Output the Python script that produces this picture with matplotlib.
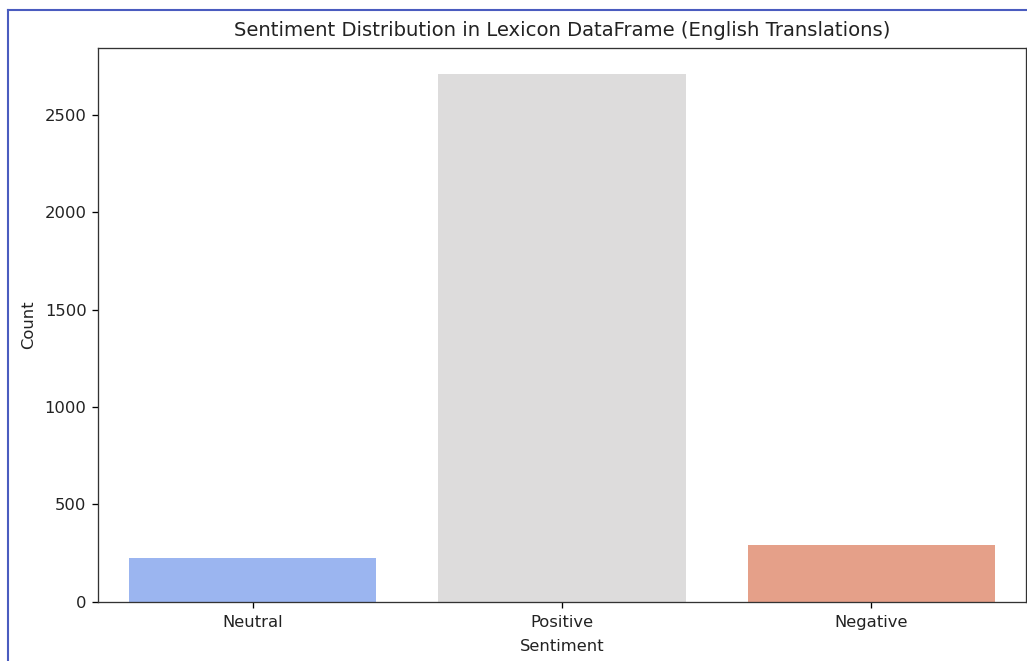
import matplotlib
matplotlib.use("Agg")
import seaborn as sns
from matplotlib import pyplot as plt
from matplotlib.lines import Line2D

sentiments = ["Neutral", "Positive", "Negative"]
counts = [223, 2708, 290]

# the screenshot was scaled up a bit from a default matplotlib render
k = 1.18
plt.rcParams.update({
    "font.size": 10 * k,
    "axes.titlesize": 12 * k,
    "axes.titlepad": 6 * k + 1.5,
    "axes.labelpad": 4 * k,
    "axes.linewidth": 0.8 * k,
    "xtick.major.size": 3.5 * k,
    "ytick.major.size": 3.5 * k,
    "xtick.major.width": 0.8 * k,
    "ytick.major.width": 0.8 * k,
    "xtick.major.pad": 3.5 * k + 1.5,
    "ytick.major.pad": 3.5 * k,
    "text.color": "#222222",
    "axes.labelcolor": "#222222",
    "xtick.labelcolor": "#222222",
    "ytick.labelcolor": "#222222",
    "axes.edgecolor": "#333333",
})


def main():
    fig = plt.figure(figsize=(10.27, 6.61), dpi=100)
    ax = fig.add_axes([98 / 1027, 1 - 601.7 / 661, 928 / 1027, 553.7 / 661])

    sns.barplot(x=sentiments, y=counts, hue=sentiments, palette="coolwarm",
                legend=False, ax=ax)

    ax.set_title("Sentiment Distribution in Lexicon DataFrame (English Translations)")
    ax.set_xlabel("Sentiment", labelpad=4 * k + 1.5)
    ax.set_ylabel("Count", labelpad=4 * k + 1.5)

    # screenshot frame around the figure
    edge = "#4a5cbf"
    fig.add_artist(Line2D([8 / 1027, 8 / 1027], [0, 1 - 9.5 / 661],
                          transform=fig.transFigure, color=edge, lw=1.5))
    fig.add_artist(Line2D([8 / 1027, 1], [1 - 9.5 / 661, 1 - 9.5 / 661],
                          transform=fig.transFigure, color=edge, lw=1.5))

    fig.savefig("out.png", dpi=100)


if __name__ == "__main__":
    main()
